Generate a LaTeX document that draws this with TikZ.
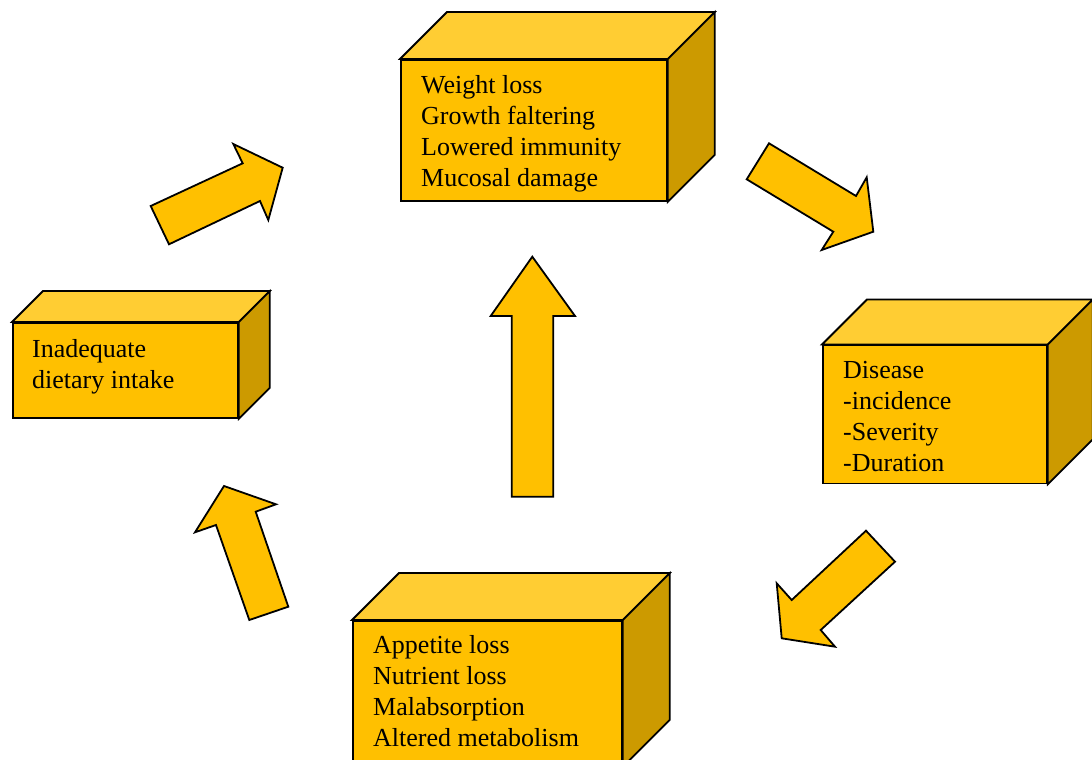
\documentclass[tikz,border=0pt]{standalone}
\usepackage{fontspec}
\setmainfont{Liberation Serif}
\usetikzlibrary{calc}
\definecolor{frontc}{HTML}{FFC000}
\definecolor{topc}{HTML}{FFCD33}
\definecolor{sidec}{HTML}{CC9A00}
\tikzset{
  front/.style={draw=black, line width=1.8pt, fill=frontc, inner sep=0pt, anchor=north west},
  topface/.style={draw=black, line width=1.8pt, fill=topc, line join=miter},
  sideface/.style={draw=black, line width=1.8pt, fill=sidec, line join=miter},
  boxtext/.style={inner sep=0pt, anchor=base west, align=left, font=\fontsize{26}{31}\selectfont},
  blockarrow/.style={draw=black, line width=1.8pt, fill=frontc, line join=miter},
}
% #1 name, #2 depth
\newcommand{\boxfaces}[2]{%
  \draw[topface] (#1.north west) -- (#1.north east) -- ++(#2,-#2) -- ($(#1.north west)+(#2,-#2)$) -- cycle;
  \draw[sideface] (#1.north east) -- ++(#2,-#2) -- ($(#1.south east)+(#2,-#2)$) -- (#1.south east) -- cycle;
}
\begin{document}
\begin{tikzpicture}[x=1pt,y=-1pt]
\useasboundingbox (0,0) rectangle (1092,760);

% top box
\node[front, minimum width=266pt, minimum height=141pt] (wl) at (400,59) {};
\boxfaces{wl}{47}
\node[boxtext] (wlt) at (421,186) {Weight loss\\Growth faltering\\Lowered immunity\\Mucosal damage};

% left box
\node[front, minimum width=225pt, minimum height=95pt] (di) at (12,322) {};
\boxfaces{di}{31}
\node[boxtext] (dit) at (32,388) {Inadequate\\dietary intake};

% right box
\node[front, minimum width=224pt, minimum height=138pt] (ds) at (822,344.5) {};
\boxfaces{ds}{45}
\node[boxtext] (dst) at (843,471.5) {Disease\\-incidence\\-Severity\\-Duration};

% bottom box
\node[front, minimum width=269pt, minimum height=145pt] (al) at (352,620) {};
\boxfaces{al}{47}
\node[boxtext] (alt) at (373,746) {Appetite loss\\Nutrient loss\\Malabsorption\\Altered metabolism};

% arrows
\draw[blockarrow] (150.7,206) -- (242.7,163.3) -- (233.3,144) -- (282.7,167.7) -- (268.3,220) -- (260,201) -- (169,244.3) -- cycle;
\draw[blockarrow] (769,143.3) -- (856,196) -- (866.7,177.3) -- (873.3,231.7) -- (821.7,250) -- (833.3,231.7) -- (746.7,179.3) -- cycle;
\draw[blockarrow] (866,530.7) -- (895,561.7) -- (820.7,630) -- (835,646.7) -- (781.7,638.3) -- (776.7,583.3) -- (791.7,600) -- cycle;
\draw[blockarrow] (249.3,620) -- (216,525) -- (195,532.3) -- (224,486) -- (276,504.3) -- (255.7,511.7) -- (288.3,606.7) -- cycle;
\draw[blockarrow] (511.7,496.7) -- (511.7,316) -- (490.7,316) -- (532.3,256.7) -- (575,316) -- (553.3,316) -- (553.3,496.7) -- cycle;
\end{tikzpicture}
\end{document}
